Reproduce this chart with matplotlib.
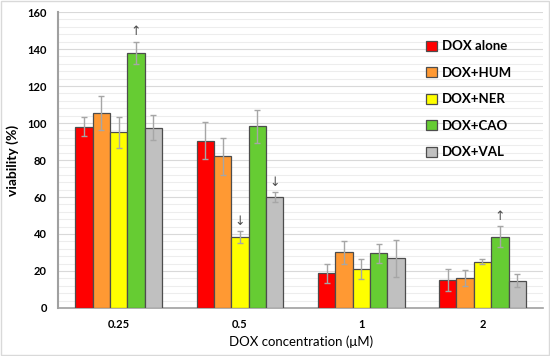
import matplotlib.pyplot as plt
import numpy as np

plt.rcParams['font.family'] = ['Lato', 'DejaVu Sans']

concentrations = ["0.25", "0.5", "1", "2"]
treatments = ["DOX alone", "DOX+HUM", "DOX+NER", "DOX+CAO", "DOX+VAL"]
colors = ["#FF0000", "#FF9933", "#FFFF00", "#66CC33", "#C0C0C0"]

viability = {
    "DOX alone": [98.0, 90.5, 18.7, 15.1],
    "DOX+HUM":   [105.5, 82.0, 30.0, 16.2],
    "DOX+NER":   [95.0, 38.2, 21.0, 25.0],
    "DOX+CAO":   [138.0, 98.2, 29.5, 38.5],
    "DOX+VAL":   [97.5, 59.8, 26.8, 14.7],
}
errors = {
    "DOX alone": [5.0, 10.0, 5.2, 6.1],
    "DOX+HUM":   [9.0, 10.0, 6.0, 4.3],
    "DOX+NER":   [8.5, 3.2, 5.3, 1.5],
    "DOX+CAO":   [6.0, 9.0, 5.2, 5.7],
    "DOX+VAL":   [6.7, 2.7, 10.0, 3.5],
}
# significance arrows: (concentration index, treatment index, symbol)
arrows = [(0, 3, "\u2191"), (1, 2, "\u2193"), (1, 4, "\u2193"), (3, 3, "\u2191")]

fig = plt.figure(figsize=(5.5, 3.56), dpi=100)
fig.patches.append(plt.Rectangle((0.002, 0.002), 0.996, 0.995, transform=fig.transFigure,
                                 fill=False, edgecolor="#D9D9D9", linewidth=1))
ax = fig.add_axes([0.1055, 0.135, 0.882, 0.831])

x = np.arange(len(concentrations))
width = 0.143
for i, t in enumerate(treatments):
    pos = x + (i - 2) * width
    ax.bar(pos, viability[t], width, color=colors[i], edgecolor="#4D4D4D",
           linewidth=0.9, label=t, zorder=3)
    ax.errorbar(pos, viability[t], yerr=errors[t], fmt="none", ecolor="#A6A6A6",
                elinewidth=1, capsize=2, capthick=1, zorder=4)

for ci, ti, sym in arrows:
    t = treatments[ti]
    top = viability[t][ci] + errors[t][ci]
    ax.text(x[ci] + (ti - 2) * width, top + 2.0, sym, ha="center", va="bottom",
            fontsize=9, color="#4D4D4D", family=["DejaVu Sans"])

ax.set_xlim(-0.5, 3.5)
ax.set_ylim(0, 160)
ax.set_yticks(np.arange(0, 161, 20))
ax.set_yticks(np.arange(0, 161, 4), minor=True)
ax.set_xticks(x)
ax.set_xticklabels(concentrations)
ax.grid(axis="y", which="major", color="#D9D9D9", linewidth=0.8, zorder=0)
ax.grid(axis="y", which="minor", color="#EDEDED", linewidth=0.8, zorder=0)
ax.tick_params(axis="both", which="both", length=0, labelsize=8, pad=8)
for lab in ax.get_xticklabels() + ax.get_yticklabels():
    lab.set_fontweight("bold")
for s in ["top", "right"]:
    ax.spines[s].set_visible(False)
ax.spines["left"].set_color("#A0A0A0")
ax.spines["left"].set_linewidth(1.5)
ax.spines["bottom"].set_color("#A0A0A0")
ax.spines["bottom"].set_linewidth(1.2)

ax.set_ylabel("viability (%)", fontsize=10, fontweight="bold", labelpad=6)
ax.set_xlabel("DOX concentration (\u03bcM)", fontsize=9.5, labelpad=4)

leg = ax.legend(loc="upper left", bbox_to_anchor=(0.735, 0.945), frameon=False,
                fontsize=9.5, handlelength=0.8, handleheight=0.8, labelspacing=1.1,
                handletextpad=0.4)
for txt in leg.get_texts():
    txt.set_fontweight("bold")

fig.savefig("out.png", dpi=100)
